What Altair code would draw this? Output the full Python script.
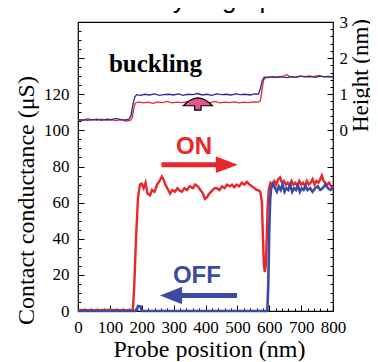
import altair as alt
import pandas as pd

# ---------------- data ----------------
# Contact conductance (uS) vs probe position (nm)
on_x = [0, 50, 100, 150, 172, 176, 182, 188, 194, 200, 206, 212, 218, 226, 232, 240, 248, 256, 263, 268, 274, 280,
        289, 296, 304, 312, 320, 326, 334, 342, 350, 361, 368, 376, 384, 392, 398, 405, 412, 420, 428, 436, 444,
        452, 460, 468, 476, 483, 490, 498, 506, 514, 522, 530, 538, 546, 554, 560, 565, 572, 577, 580, 583, 586,
        589, 592, 595, 599, 604, 610, 616, 622, 628, 634, 640, 646, 652, 658, 664, 670, 676, 682, 688, 694, 700,
        706, 712, 718, 724, 730, 736, 742, 748, 754, 760, 765, 770, 776, 782, 788, 794, 800]
on_g = [0.6, 0.4, 0.6, 0.5, 0.6, 12, 40, 62, 70, 70.5, 68, 71, 65, 64, 67, 66, 70, 72, 74.5, 73, 70, 68,
        65, 67, 66, 68, 66.5, 66, 68, 67, 69, 68, 70, 69, 67, 65, 62, 63, 65, 66.5, 68, 68, 67, 69,
        68, 70, 69, 70, 68.5, 70, 69, 71, 70, 71.5, 70, 69, 68, 67, 67, 66, 60, 42, 26, 21.6,
        25, 40, 58, 68, 71, 70, 72, 70, 73, 74, 71, 72, 70, 71, 69, 72, 70, 71, 69, 72, 70,
        71, 69, 72, 70, 71, 73, 70, 72, 71, 73, 75, 72, 71, 70, 71, 69, 68]

off_x = [0, 60, 120, 180, 185, 188, 196, 200, 260, 320, 380, 440, 500, 560, 594, 597, 600, 603, 606, 612, 618,
         624, 630, 636, 642, 648, 654, 660, 666, 672, 678, 684, 690, 696, 702, 708, 714, 720, 728, 736, 744,
         752, 760, 768, 776, 784, 792, 800]
off_g = [0, 0, 0, 0, 0.5, 2.8, 2.6, 0, 0, 0, 0, 0, 0, 0, 0, 15, 45, 62, 68, 70.5, 68, 66, 69, 67, 70, 66, 68,
         67, 70, 66, 68, 67, 69.5, 66, 68, 67, 69, 67, 68, 66, 68, 69, 67, 68, 70, 68, 67, 68]

# Height (nm) vs probe position (nm)
h_on_x = [0, 15, 30, 45, 60, 75, 90, 105, 120, 135, 150, 165, 170, 175, 180, 190, 205, 220, 235, 250, 265,
          280, 295, 310, 325, 340, 355, 370, 385, 400, 415, 430, 445, 460, 475, 490, 505, 520, 535, 550,
          565, 572, 577, 582, 588, 600, 615, 630, 645, 655, 665, 680, 695, 710, 725, 740, 755, 770, 785, 800]
h_on = [0.28, 0.30, 0.27, 0.30, 0.28, 0.31, 0.28, 0.29, 0.27, 0.30, 0.26, 0.28, 0.35, 0.60, 0.76, 0.79,
        0.76, 0.78, 0.75, 0.79, 0.77, 0.80, 0.76, 0.78, 0.77, 0.79, 0.76, 0.78, 0.75, 0.78, 0.77, 0.80,
        0.76, 0.78, 0.77, 0.79, 0.76, 0.78, 0.77, 0.79, 0.78, 0.82, 1.10, 1.38, 1.47, 1.48, 1.46, 1.49,
        1.50, 1.54, 1.48, 1.47, 1.50, 1.48, 1.51, 1.49, 1.52, 1.48, 1.50, 1.47]

h_off_x = [0, 15, 30, 45, 60, 75, 90, 105, 120, 135, 150, 160, 166, 172, 178, 184, 195, 210, 225, 240, 255,
           270, 285, 300, 315, 330, 345, 360, 375, 390, 405, 420, 435, 450, 465, 480, 495, 510, 525, 540,
           555, 566, 572, 578, 584, 595, 610, 625, 640, 655, 670, 685, 700, 715, 730, 745, 760, 775, 790, 800]
h_off = [0.30, 0.28, 0.32, 0.29, 0.31, 0.28, 0.31, 0.30, 0.33, 0.29, 0.30, 0.31, 0.40, 0.70, 0.92, 0.99,
         0.97, 1.00, 0.98, 1.01, 0.97, 0.99, 1.00, 0.98, 1.01, 0.97, 1.00, 0.99, 1.02, 0.98, 1.00, 0.97,
         1.01, 0.99, 1.00, 0.98, 1.01, 0.99, 1.00, 0.98, 1.01, 1.00, 1.15, 1.38, 1.47, 1.46, 1.49, 1.47,
         1.48, 1.46, 1.49, 1.47, 1.50, 1.48, 1.49, 1.47, 1.50, 1.48, 1.49, 1.48]

# tick values
x_ticks = list(range(0, 801, 20))
g_ticks = list(range(0, 161, 5))
h_ticks = [(v - 100) / 20 for v in range(0, 100, 5)] + [round(i * 0.2, 1) for i in range(16)]

# texts
chart_title = ["Bistability of graphene"]
title_x = [395]
title_y = [167.5]
x_title = "Probe position (nm)"
g_title = "Contact conductance (\u03bcS)"
h_title = "Height (nm)"

buckling_text = ["buckling"]
buckling_x = [243]
buckling_y = [132.3]

state_text = ["ON", "OFF"]
state_x = [364, 373]
state_y = [91.0, 19.4]
state_color = ["#e8262b", "#3a4ba3"]

# arrows: shaft start/end, head position (nm, uS)
arrow_x1 = [262, 300]
arrow_x2 = [462, 499]
arrow_y = [81.0, 8.6]
head_x = [467, 292]
head_dir = ["right", "left"]

pink_x = [376]
pink_y = [0.73]

# ---------------- styles ----------------
RED = "#e8262b"
BLUE = "#3a4ba3"
NAVY = "#2c2f8f"
SERIF = "Liberation Serif"
SANS = "Liberation Sans"

xscale = alt.Scale(domain=[0, 800], nice=False, zero=False)
gscale = alt.Scale(domain=[0, 160], nice=False, zero=False)
hscale = alt.Scale(domain=[-5, 3], nice=False, zero=False)

common_axis = dict(domain=False, grid=False, tickColor="black", tickWidth=1,
                   labelFont=SERIF, labelFontSize=17, labelColor="black",
                   labelOverlap=False, labelFlush=False,
                   titleFont=SERIF, titleFontWeight="normal", titleColor="black")

x_axis = alt.Axis(values=x_ticks, format="d",
                  labelExpr="datum.value % 100 === 0 ? datum.label : ''",
                  tickSize=alt.ExprRef(expr="datum.value % 100 === 0 ? -6 : -3"),
                  labelPadding=14, title=x_title, titleFontSize=24, titleX=131, titleY=38,
                  titleAlign="center", titleBaseline="middle", **common_axis)

g_axis = alt.Axis(values=g_ticks, format="d", orient="left",
                  labelExpr="(datum.value % 20 === 0 && datum.value <= 120) ? datum.label : ''",
                  tickSize=alt.ExprRef(expr="datum.value % 20 === 0 ? -6 : -3"),
                  labelPadding=15, title=g_title, titleFontSize=24, titleX=-52, titleY=178, titleAngle=270,
                  titleAlign="center", titleBaseline="middle", **common_axis)

h_axis = alt.Axis(values=h_ticks, orient="right",
                  labelExpr="(abs(datum.value - round(datum.value)) < 0.001 && datum.value >= 0) ? format(datum.value, 'd') : ''",
                  tickSize=alt.ExprRef(expr="abs(datum.value - round(datum.value)) < 0.001 ? -6 : -3"),
                  labelPadding=12, title=h_title, titleFontSize=23, titleX=27, titleY=53, titleAngle=270,
                  titleAlign="center", titleBaseline="middle", **common_axis)

X = lambda f: alt.X(f, type="quantitative", scale=xscale, axis=x_axis)
YG = lambda f: alt.Y(f, type="quantitative", scale=gscale, axis=g_axis)
YH = lambda f: alt.Y(f, type="quantitative", scale=hscale, axis=h_axis)

# ---------------- conductance group ----------------
df_on = pd.DataFrame({"x": on_x, "g": on_g})
df_off = pd.DataFrame({"x": off_x, "g": off_g})

on_line = alt.Chart(df_on).mark_line(color=RED, strokeWidth=2.4).encode(x=X("x"), y=YG("g"))
off_line = alt.Chart(df_off).mark_line(color=BLUE, strokeWidth=2.6).encode(x=X("x"), y=YG("g"))

df_arrow = pd.DataFrame({"x1": arrow_x1, "x2": arrow_x2, "y": arrow_y, "c": state_color})
shafts = alt.Chart(df_arrow).mark_rule(strokeWidth=5).encode(
    x=X("x1"), x2="x2", y=YG("y"), color=alt.Color("c:N", scale=None))

df_head = pd.DataFrame({"x": head_x, "y": arrow_y, "d": head_dir, "c": state_color})
head_r = alt.Chart(df_head[df_head.d == "right"]).mark_point(
    shape="M1,0 L-1,-0.75 L-1,0.75 Z", size=484, filled=True, opacity=1, strokeWidth=0).encode(
    x=X("x"), y=YG("y"), color=alt.Color("c:N", scale=None))
head_l = alt.Chart(df_head[df_head.d == "left"]).mark_point(
    shape="M-1,0 L1,-0.8 L1,0.8 Z", size=484, filled=True, opacity=1, strokeWidth=0).encode(
    x=X("x"), y=YG("y"), color=alt.Color("c:N", scale=None))

df_state = pd.DataFrame({"x": state_x, "y": state_y, "t": state_text, "c": state_color})
state_labels = alt.Chart(df_state).mark_text(
    font=SANS, fontSize=24, fontWeight="bold", align="center", baseline="middle").encode(
    x=X("x"), y=YG("y"), text="t:N", color=alt.Color("c:N", scale=None))

df_buck = pd.DataFrame({"x": buckling_x, "y": buckling_y, "t": buckling_text})
buck_label = alt.Chart(df_buck).mark_text(
    font=SERIF, fontSize=25, fontWeight="bold", align="center", baseline="alphabetic", color="black").encode(
    x=X("x"), y=YG("y"), text="t:N")

df_title = pd.DataFrame({"x": title_x, "y": title_y, "t": chart_title})
title_mark = alt.Chart(df_title).mark_text(
    font=SANS, fontSize=26, align="center", baseline="alphabetic", color="black").encode(
    x=X("x"), y=YG("y"), text="t:N")

g_group = alt.layer(on_line, off_line, shafts, head_r, head_l, state_labels, buck_label, title_mark)

# ---------------- height group ----------------
df_hon = pd.DataFrame({"x": h_on_x, "h": h_on})
df_hoff = pd.DataFrame({"x": h_off_x, "h": h_off})
hon_line = alt.Chart(df_hon).mark_line(color=RED, strokeWidth=1.3).encode(x=X("x"), y=YH("h"))
hoff_line = alt.Chart(df_hoff).mark_line(color=NAVY, strokeWidth=1.3).encode(x=X("x"), y=YH("h"))

df_pink = pd.DataFrame({"x": pink_x, "y": pink_y})
pink = alt.Chart(df_pink).mark_point(
    shape="M0,-0.42 C0.35,-0.38 0.78,-0.12 1,0.12 L0.22,0.12 L0.22,0.42 L-0.22,0.42 L-0.22,0.12 L-1,0.12 C-0.78,-0.12 -0.35,-0.38 0,-0.42 Z",
    size=841, filled=True, fill="#e4578f", stroke="black", strokeWidth=1.2, opacity=1).encode(
    x=X("x"), y=YH("y"))

h_group = alt.layer(hon_line, hoff_line, pink)

chart = alt.layer(g_group, h_group).resolve_scale(y="independent").properties(
    width=255, height=289,
    padding={"left": 70, "top": 14, "right": 37, "bottom": 50},
    autosize=alt.AutoSizeParams(type="none"),
).configure_view(stroke="black", strokeWidth=1.2)

chart.save("out.html", embed_options={"renderer": "svg", "actions": False})
